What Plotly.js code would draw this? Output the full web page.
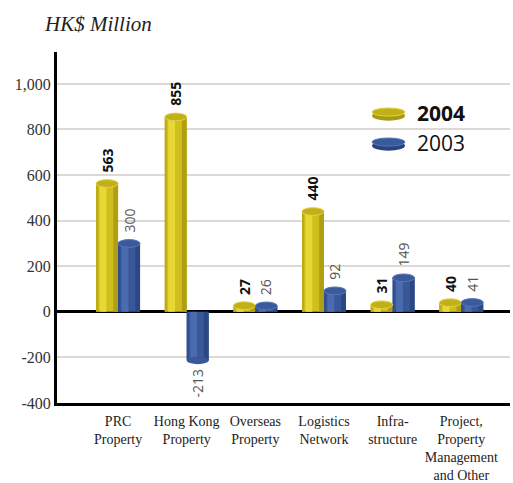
<!DOCTYPE html>
<html>
<head>
<meta charset="utf-8">
<script src="https://cdn.plot.ly/plotly-3.0.1.min.js"></script>
<style>html,body{margin:0;padding:0;background:#fff;}#chart{width:513px;height:483px;}</style>
</head>
<body>
<div id="chart"></div>
<script>
const categories = ['PRC<br>Property','Hong Kong<br>Property','Overseas<br>Property','Logistics<br>Network','Infra-<br>structure','Project,<br>Property<br>Management<br>and Other'];
const values2004 = [563, 855, 27, 440, 31, 40];
const values2003 = [300, -213, 26, 92, 149, 41];
const yTickVals = [-400, -200, 0, 200, 400, 600, 800, 1000];
const yTickText = ['-400', '-200', '0', '200', '400', '600', '800', '1,000'];
const seriesNames = ['<b>2004</b>', '2003'];

const idx = categories.map((c, i) => i);
const W = 0.32;
const series = [
  {name: seriesNames[0], vals: values2004, off: -W, base: '#d0be1c', hi: '#e8d836', sh: '#b09e14', edge: '#bcaa18', cap: '#c2b01a', capLine: '#e2d244', rim: '#a89a12', txtColor: '#111', bold: true},
  {name: seriesNames[1], vals: values2003, off: 0, base: '#38589a', hi: '#4a6cae', sh: '#2c4884', edge: '#304e8c', cap: '#3a5a9c', capLine: '#5676b6', rim: '#284580', txtColor: '#555', bold: false}
];

const traces = [];
const shapes = [];
const annotations = [];
const capH = 17;

series.forEach((s, k) => {
  traces.push({type: 'bar', x: idx, y: s.vals, name: s.name, legendgroup: 'g' + k, width: W, offset: s.off,
    marker: {color: s.base, line: {width: 0}}, hoverinfo: 'skip', showlegend: false});
  traces.push({type: 'bar', x: idx, y: s.vals, legendgroup: 'g' + k, width: 0.03, offset: s.off,
    marker: {color: s.edge, line: {width: 0}}, hoverinfo: 'skip', showlegend: false});
  traces.push({type: 'bar', x: idx, y: s.vals, legendgroup: 'g' + k, width: 0.1, offset: s.off + 0.05,
    marker: {color: s.hi, line: {width: 0}}, hoverinfo: 'skip', showlegend: false});
  traces.push({type: 'bar', x: idx, y: s.vals, legendgroup: 'g' + k, width: 0.07, offset: s.off + W - 0.07,
    marker: {color: s.sh, line: {width: 0}}, hoverinfo: 'skip', showlegend: false});
  // legend entry (transparent; its symbol is drawn as a disk below)
  traces.push({type: 'bar', x: idx, y: s.vals, name: s.name, legendgroup: 'g' + k, width: W, offset: s.off,
    marker: {color: 'rgba(0,0,0,0)', line: {width: 0}}, hoverinfo: 'skip', showlegend: true});
  s.vals.forEach((v, i) => {
    const x0 = i + s.off, x1 = i + s.off + W;
    if (v >= 0) {
      shapes.push({type: 'circle', xref: 'x', yref: 'y', x0: x0, x1: x1, y0: v - capH, y1: v + capH,
        fillcolor: s.cap, line: {color: s.capLine, width: 1}});
      annotations.push({x: i + s.off + W / 2, y: v, xref: 'x', yref: 'y', text: s.bold ? '<b>' + v + '</b>' : String(v),
        textangle: -90, showarrow: false, yanchor: 'bottom', xanchor: 'center', yshift: 9,
        font: {family: 'Open Sans', size: 14, color: s.txtColor}});
    } else {
      shapes.push({type: 'circle', xref: 'x', yref: 'y', x0: x0, x1: x1, y0: v - capH, y1: v + capH,
        fillcolor: s.base, line: {color: s.base, width: 0}});
      annotations.push({x: i + s.off + W / 2, y: v, xref: 'x', yref: 'y', text: s.bold ? '<b>' + v + '</b>' : String(v),
        textangle: -90, showarrow: false, yanchor: 'top', xanchor: 'center', yshift: -6,
        font: {family: 'Open Sans', size: 14, color: s.txtColor}});
    }
  });
});

// legend disks (paper coordinates)
const diskX0 = 0.6954, diskX1 = 0.7682;
const diskY = [0.8234, 0.7379];
series.forEach((s, k) => {
  shapes.push({type: 'circle', xref: 'paper', yref: 'paper', x0: diskX0, x1: diskX1,
    y0: diskY[k] - 0.019, y1: diskY[k] + 0.009, fillcolor: s.rim, line: {width: 0}});
  shapes.push({type: 'circle', xref: 'paper', yref: 'paper', x0: diskX0, x1: diskX1,
    y0: diskY[k] - 0.006, y1: diskY[k] + 0.017, fillcolor: s.cap, line: {color: s.capLine, width: 1}});
});

const layout = {
  width: 513, height: 483,
  margin: {l: 57, r: 3, t: 52, b: 80},
  paper_bgcolor: '#ffffff', plot_bgcolor: '#ffffff',
  barmode: 'overlay',
  title: {text: 'HK$ Million', x: 45 / 513, xanchor: 'left', xref: 'container', y: 1 - 24 / 483, yanchor: 'middle',
    font: {family: 'Liberation Serif', size: 21, style: 'italic', color: '#222'}},
  xaxis: {range: [-0.89, 5.71], tickmode: 'array', tickvals: idx, ticktext: categories,
    showgrid: false, zeroline: false, showline: true, linecolor: '#000', linewidth: 3, ticks: '',
    ticklabelstandoff: 3,
    tickfont: {family: 'Liberation Serif', size: 14, color: '#222'}, fixedrange: true},
  yaxis: {range: [-400, 1140], tickmode: 'array', tickvals: yTickVals, ticktext: yTickText,
    showgrid: true, gridcolor: '#dcd8d2', gridwidth: 2, zeroline: true, zerolinecolor: '#000', zerolinewidth: 3,
    showline: true, linecolor: '#000', linewidth: 3, ticks: '',
    tickfont: {family: 'Liberation Serif', size: 16, color: '#333'}, fixedrange: true},
  legend: {x: 0.6667, y: 0.884, xanchor: 'left', yanchor: 'top', bgcolor: 'rgba(0,0,0,0)', itemwidth: 48,
    font: {family: 'Open Sans', size: 21, color: '#111'}, tracegroupgap: 0},
  shapes: shapes,
  annotations: annotations,
  showlegend: true
};

Plotly.newPlot('chart', traces, layout, {staticPlot: true, displayModeBar: false});
</script>
</body>
</html>
